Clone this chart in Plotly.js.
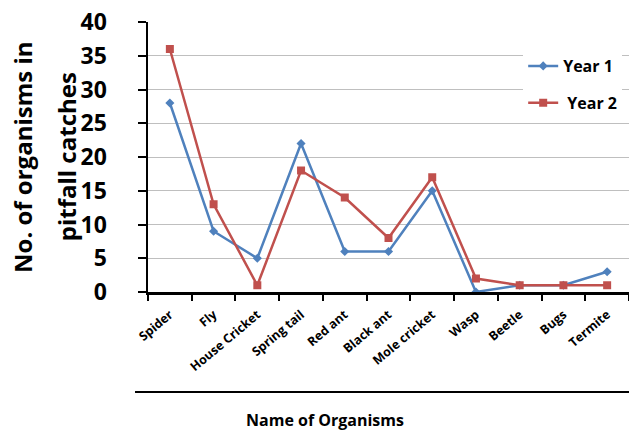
<!DOCTYPE html>
<html><head><meta charset="utf-8">
<script src="https://cdn.plot.ly/plotly-3.0.1.min.js"></script>
<style>html,body{margin:0;padding:0;background:#fff}#chart{width:629px;height:433px}</style>
</head><body><div id="chart"></div>
<script>
const categories = ["Spider","Fly","House Cricket","Spring tail","Red ant","Black ant","Mole cricket","Wasp","Beetle","Bugs","Termite"];
const year1 = [28, 9, 5, 22, 6, 6, 15, 0, 1, 1, 3];
const year2 = [36, 13, 1, 18, 14, 8, 17, 2, 1, 1, 1];
const yTicks = [0,5,10,15,20,25,30,35,40];

const FONT = "Open Sans, Lato, sans-serif";
const traces = [
  {x: categories, y: year1, name: "Year 1", type: "scatter", mode: "lines+markers",
   legendgroup: "a",
   line: {color: "#4F81BD", width: 2.5}, marker: {symbol: "diamond", size: 7, color: "#4F81BD"}},
  {x: categories, y: year2, name: "\u00a0Year 2", type: "scatter", mode: "lines+markers",
   legendgroup: "b",
   line: {color: "#C0504D", width: 2.5}, marker: {symbol: "square", size: 8, color: "#C0504D"}}
];
const layout = {
  width: 629, height: 433,
  margin: {l: 148, r: 0, t: 22, b: 141},
  paper_bgcolor: "#fff", plot_bgcolor: "#fff",
  font: {family: FONT, color: "#000"},
  showlegend: true,
  legend: {x: 0.78, y: 0.9, xanchor: "left", yanchor: "top", bgcolor: "#fff",
           font: {size: 16, weight: "bold", family: FONT}, tracegroupgap: 13},
  xaxis: {type: "category", tickson: "boundaries", ticks: "outside", ticklen: 6, tickwidth: 2,
          tickcolor: "#000", showline: true, linecolor: "#000", linewidth: 2.5,
          showgrid: false, tickangle: -40, tickfont: {size: 12.5, weight: "bold", family: FONT},
          ticklabelstandoff: 8, range: [-0.5, 10.5], fixedrange: true},
  yaxis: {range: [0, 40], tickvals: yTicks, ticks: "outside", ticklen: 8, tickwidth: 2,
          tickcolor: "#000", showline: true, linecolor: "#000", linewidth: 2.5,
          showgrid: true, gridcolor: "#BFBFBF", gridwidth: 1, zeroline: false,
          tickfont: {size: 23, weight: "bold", family: FONT}, ticklabelstandoff: 26},
  annotations: [
    {text: "No. of organisms in", xref: "paper", yref: "paper",
     x: -0.262, y: 0.5, xanchor: "center", yanchor: "middle", textangle: -90, showarrow: false,
     font: {size: 24, weight: "bold", family: FONT}},
    {text: "pitfall catches", xref: "paper", yref: "paper",
     x: -0.17, y: 0.5, xanchor: "center", yanchor: "middle", textangle: -90, showarrow: false,
     font: {size: 24, weight: "bold", family: FONT}},
    {text: "Name of Organisms", xref: "paper", yref: "paper",
     x: 0.368, y: -0.474, xanchor: "center", yanchor: "middle", showarrow: false,
     font: {size: 16, weight: "bold", family: FONT}}
  ],
  shapes: [
    {type: "line", xref: "paper", yref: "paper", x0: -0.027, x1: 1, y0: -0.37, y1: -0.37,
     line: {color: "#000", width: 2}}
  ]
};
Plotly.newPlot("chart", traces, layout, {displayModeBar: false, staticPlot: true});
</script></body></html>
